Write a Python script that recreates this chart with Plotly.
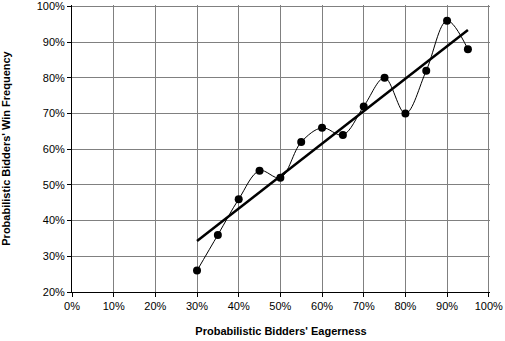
import numpy as np
import plotly.graph_objects as go

# Bidder eagerness (x) and observed win frequency (y), as fractions
eagerness = [0.30, 0.35, 0.40, 0.45, 0.50, 0.55, 0.60, 0.65, 0.70, 0.75, 0.80, 0.85, 0.90, 0.95]
win_freq = [0.26, 0.36, 0.46, 0.54, 0.52, 0.62, 0.66, 0.64, 0.72, 0.80, 0.70, 0.82, 0.96, 0.88]

x_ticks = [0.0, 0.1, 0.2, 0.3, 0.4, 0.5, 0.6, 0.7, 0.8, 0.9, 1.0]
y_ticks = [0.2, 0.3, 0.4, 0.5, 0.6, 0.7, 0.8, 0.9, 1.0]

x_title = "Probabilistic Bidders' Eagerness"
y_title = "Probabilistic Bidders' Win Frequency"

# Least-squares linear trend over the observed points
slope, intercept = np.polyfit(eagerness, win_freq, 1)
trend_x = [eagerness[0], eagerness[-1]]
trend_y = [slope * v + intercept for v in trend_x]

FONT = "Liberation Sans, Arial, sans-serif"

fig = go.Figure()
fig.add_trace(go.Scatter(
    x=eagerness, y=win_freq, mode="lines+markers",
    line=dict(color="black", width=1, shape="spline", smoothing=1),
    marker=dict(color="black", size=8, line=dict(width=0)),
    showlegend=False, hoverinfo="skip",
))
fig.add_trace(go.Scatter(
    x=trend_x, y=trend_y, mode="lines",
    line=dict(color="black", width=2.5),
    showlegend=False, hoverinfo="skip",
))

axis_common = dict(
    showgrid=True, gridcolor="#808080", gridwidth=1,
    zeroline=False, showline=True, linecolor="black", linewidth=1,
    ticks="outside", ticklen=4, tickcolor="black", tickwidth=1,
    tickmode="array", tickformat=".0%",
    tickfont=dict(family=FONT, size=11, color="black"),
    ticklabeloverflow="allow",
    automargin=False,
)

fig.update_xaxes(
    range=[0, 1.003], tickvals=x_ticks,
    title=dict(text="<b>" + x_title + "</b>",
               font=dict(family=FONT, size=11, color="black"), standoff=16),
    **axis_common,
)
fig.update_yaxes(
    range=[0.2, 1.004], tickvals=y_ticks,
    title=dict(text="<b>" + y_title + "</b>",
               font=dict(family=FONT, size=11, color="black"), standoff=26),
    **axis_common,
)

fig.update_layout(
    width=505, height=341,
    margin=dict(l=72, r=15, t=5, b=49, autoexpand=False),
    paper_bgcolor="white", plot_bgcolor="white",
    font=dict(family=FONT, color="black"),
)

fig.write_html("out.html")
